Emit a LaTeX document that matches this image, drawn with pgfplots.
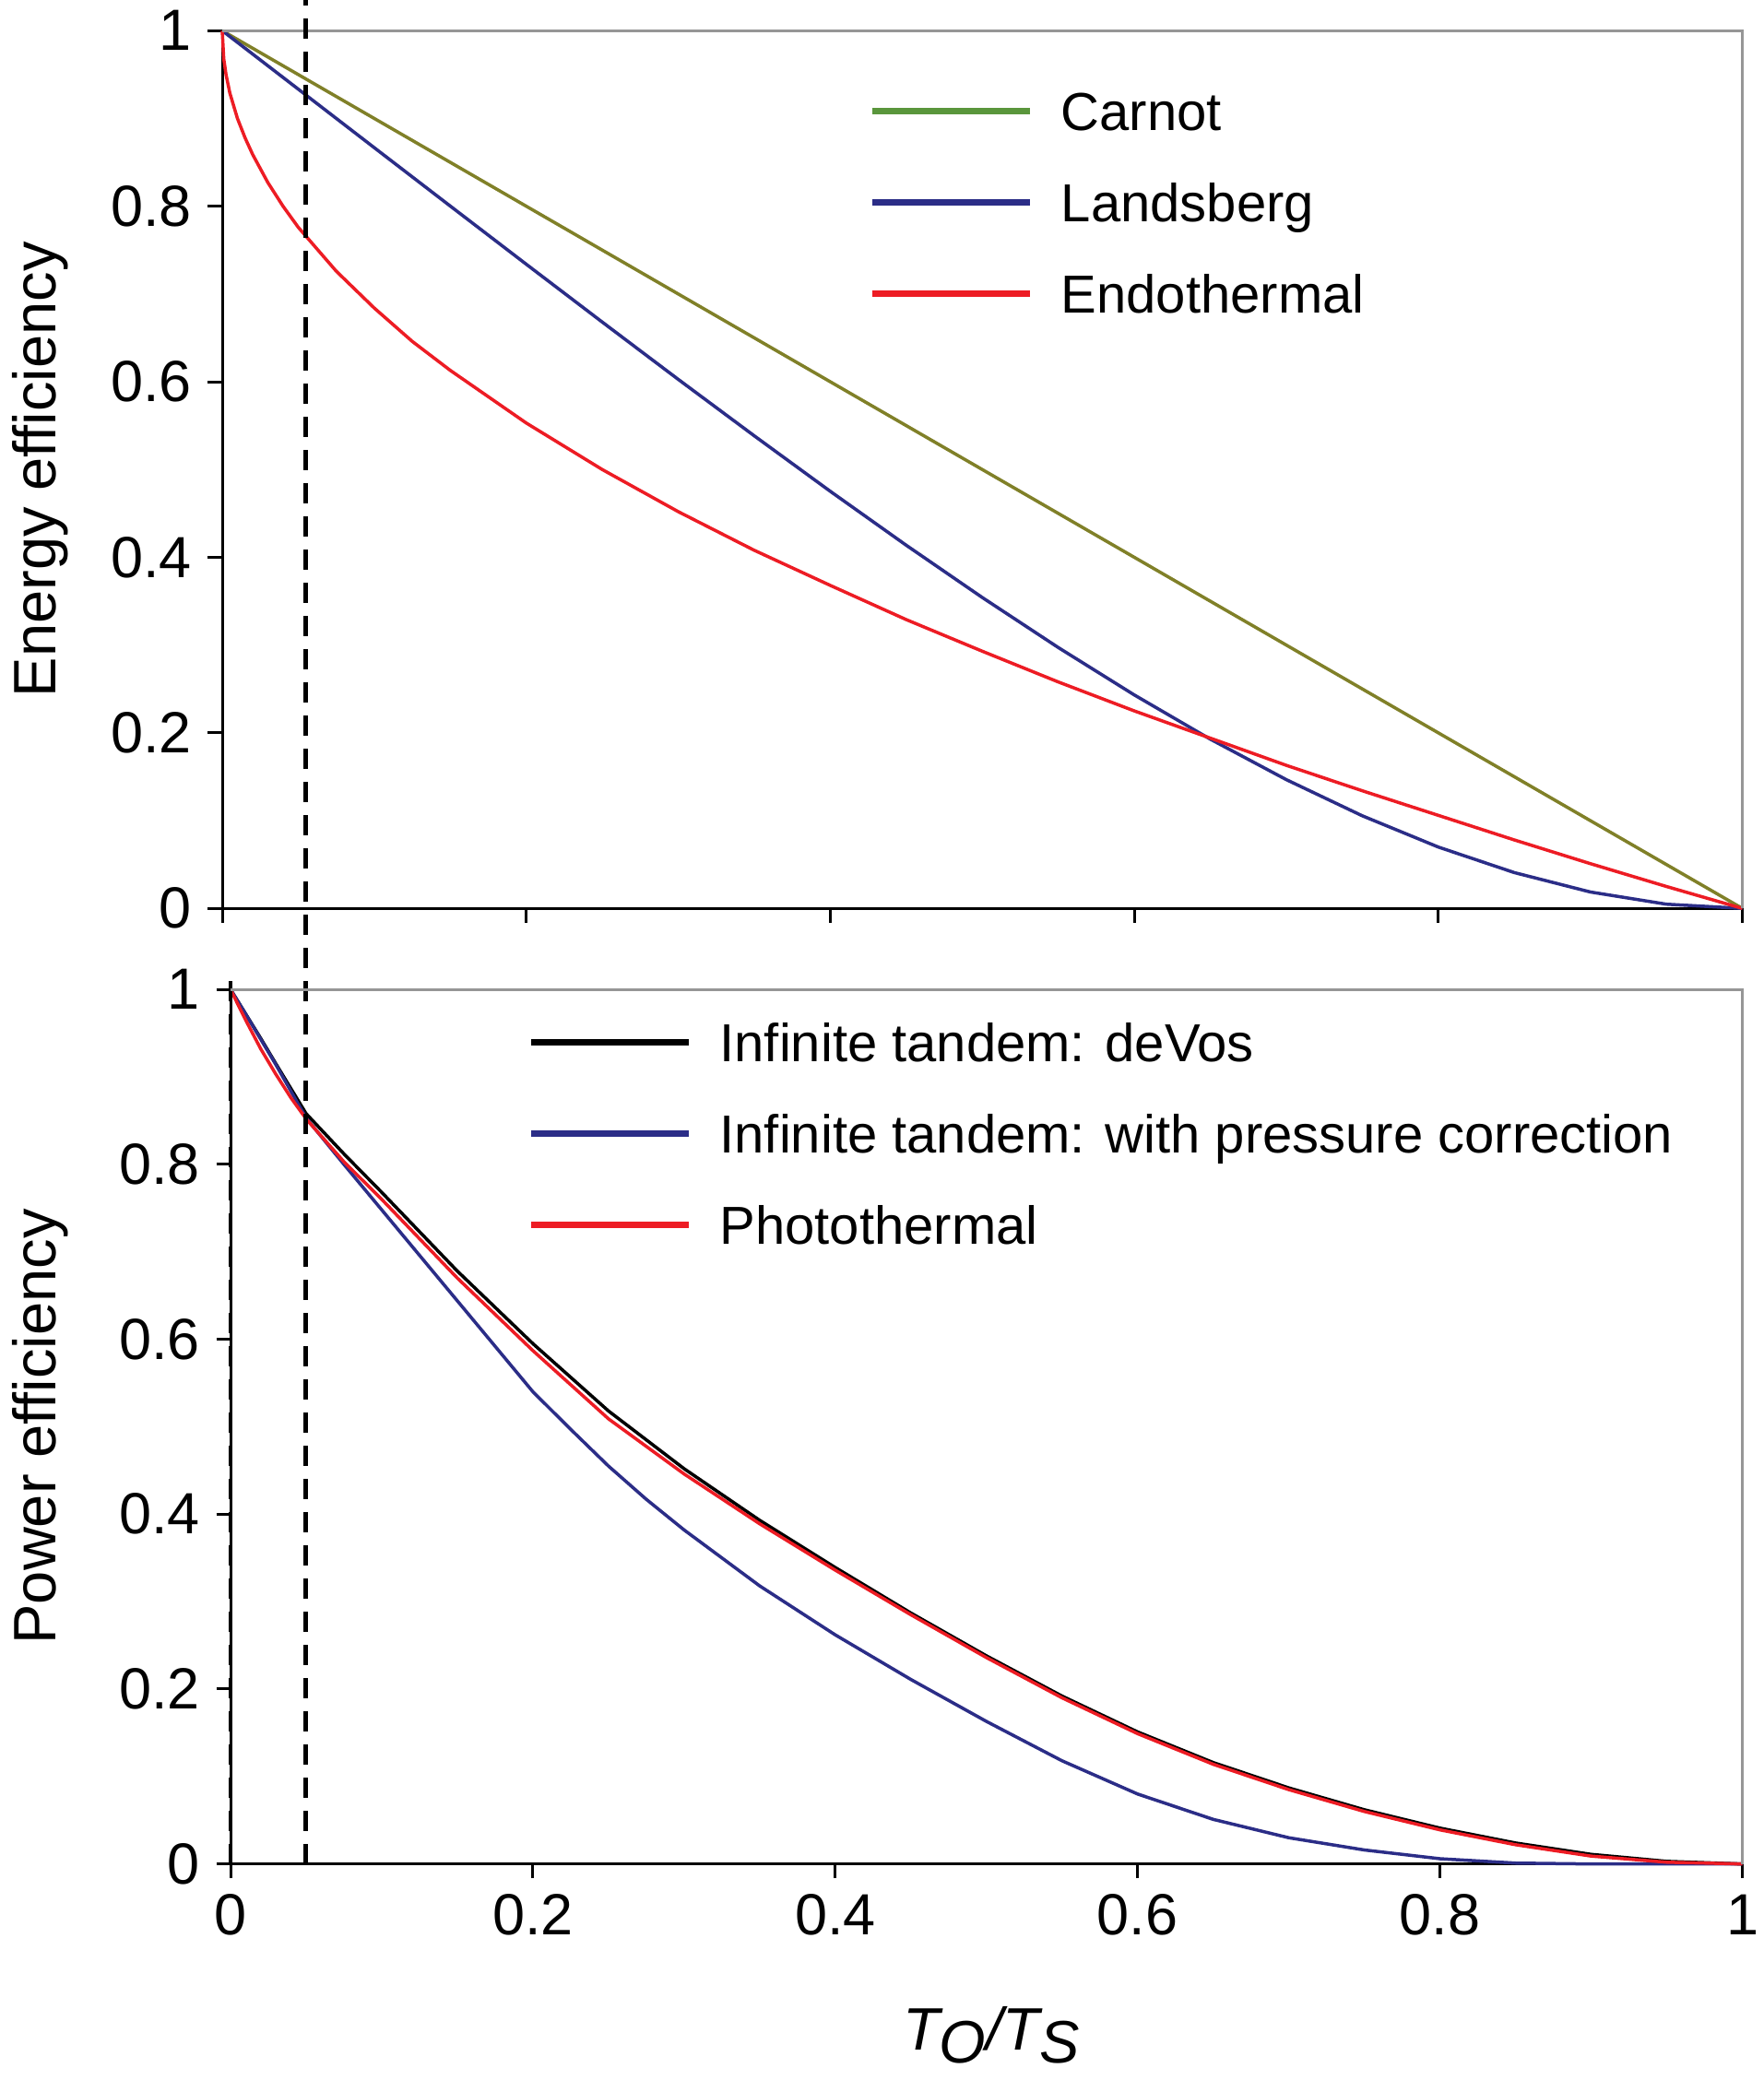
\documentclass[border=0pt]{standalone}
\usepackage{fontspec}
\setmainfont{Liberation Sans}
\usepackage{pgfplots}
\pgfplotsset{compat=1.18}
\definecolor{carnot}{RGB}{128,128,40}
\definecolor{carnotleg}{RGB}{90,150,60}
\definecolor{navy}{RGB}{43,45,135}
\definecolor{myred}{RGB}{237,28,36}
\definecolor{boxgray}{RGB}{150,150,150}
\pgfplotsset{
 panel/.style={
  scale only axis, xmin=0,xmax=1,ymin=0,ymax=1,
  axis x line*=bottom, axis y line*=left,
  axis line style={-,black,line width=0.6pt},
  tick align=outside, major tick length=3.1pt,
  tick style={black,line width=0.6pt},
  xtick={0,0.2,0.4,0.6,0.8,1},
  ytick={0,0.2,0.4,0.6,0.8,1},
  yticklabels={0,0.2,0.4,0.6,0.8,1},
  tick label style={font=\fontsize{12.6}{15}\selectfont},
  clip=false,
  legend cell align=left,
  legend style={draw=none,fill=none,anchor=west,
     nodes={inner sep=0pt,text height=9.9pt,text depth=1.5pt,font=\fontsize{11.6}{14}\selectfont},
     row sep=8.4pt, column sep=6pt},
  legend image code/.code={\draw[##1,line width=1.4pt] (0pt,0pt) -- (34.2pt,0pt);},
  every axis y label/.style={rotate=90,anchor=center,font=\fontsize{13}{15}\selectfont},
 }
}
\begin{document}
\begin{tikzpicture}
\path[use as bounding box] (0,0) rectangle (382.4pt,451.2pt);
% ---------------- top panel ----------------
\begin{axis}[panel, at={(48.2pt,254.14pt)}, anchor=south west,
  width=329.7pt, height=190.4pt, xticklabels={},
  ylabel={Energy efficiency},
  ylabel style={at={(axis description cs:-0.1198,0.5)}},
  legend style={at={(axis description cs:0.416,0.804)}}]
\addplot[carnot, line width=0.7pt,
  legend image code/.code={\draw[carnotleg,line width=1.4pt] (0pt,0pt) -- (34.2pt,0pt);}]
  coordinates {(0,1) (0.25,0.75) (0.5,0.5) (0.75,0.25) (1,0)};
\addlegendentry{Carnot}
\addplot[navy, line width=0.7pt] coordinates {
(0,1) (0.05,0.9334) (0.1,0.8667) (0.15,0.8002) (0.2,0.7339) (0.25,0.668)
(0.3,0.6027) (0.35,0.5384) (0.4,0.4752) (0.45,0.4137) (0.5,0.3542)
(0.55,0.2972) (0.6,0.2432) (0.65,0.1928) (0.7,0.1467) (0.75,0.1055)
(0.8,0.0699) (0.85,0.0408) (0.9,0.0187) (0.95,0.0048) (1,0)};
\addlegendentry{Landsberg}
\addplot[myred, line width=0.7pt] coordinates {
(0,1) (0.001,0.968) (0.0025,0.95) (0.005,0.929) (0.01,0.9) (0.015,0.878)
(0.02,0.859) (0.03,0.827) (0.04,0.8) (0.05,0.776) (0.075,0.726) (0.1,0.684)
(0.125,0.646) (0.15,0.613) (0.2,0.553) (0.25,0.5) (0.3,0.452) (0.35,0.408)
(0.4,0.368) (0.45,0.329) (0.5,0.293) (0.55,0.258) (0.6,0.225) (0.65,0.194)
(0.7,0.163) (0.75,0.134) (0.8,0.106) (0.85,0.078) (0.9,0.051) (0.95,0.025) (1,0)};
\addlegendentry{Endothermal}
\draw[boxgray,line width=0.6pt] (rel axis cs:0,1) -- (rel axis cs:1,1) -- (rel axis cs:1,0);
\end{axis}
% ---------------- bottom panel ----------------
\begin{axis}[panel, at={(50pt,46.86pt)}, anchor=south west,
  width=327.9pt, height=189.7pt,
  xticklabels={0,0.2,0.4,0.6,0.8,1},
  ylabel={Power efficiency},
  ylabel style={at={(axis description cs:-0.126,0.5)}},
  xlabel={\itshape T\raisebox{-0.4ex}{O}/T\raisebox{-0.4ex}{S}},
  xlabel style={at={(axis description cs:0.5,0)},anchor=center,yshift=-37.1pt,xshift=1pt,font=\fontsize{13}{15}\selectfont},
  legend style={at={(axis description cs:0.187,0.8355)}}]
\addplot[black, line width=0.7pt] coordinates {
(0,1) (0.01,0.972) (0.02,0.944) (0.03,0.915) (0.05,0.858) (0.075,0.812)
(0.1,0.768) (0.15,0.678) (0.2,0.595) (0.25,0.518) (0.3,0.452) (0.35,0.393)
(0.4,0.339) (0.45,0.287) (0.5,0.238) (0.55,0.192) (0.6,0.151) (0.65,0.116)
(0.7,0.087) (0.75,0.062) (0.8,0.041) (0.85,0.024) (0.9,0.011) (0.95,0.003) (1,0)};
\addlegendentry{Infinite tandem: deVos}
\addplot[navy, line width=0.7pt] coordinates {
(0,1) (0.01,0.972) (0.02,0.943) (0.03,0.914) (0.05,0.853) (0.075,0.800)
(0.1,0.748) (0.15,0.644) (0.2,0.540) (0.225,0.497) (0.25,0.455) (0.275,0.417)
(0.3,0.382) (0.35,0.318) (0.4,0.262) (0.45,0.211) (0.5,0.163) (0.55,0.118)
(0.6,0.080) (0.65,0.051) (0.7,0.030) (0.75,0.016) (0.8,0.006) (0.85,0.001)
(0.9,0) (1,0)};
\addlegendentry{Infinite tandem: with pressure correction}
\addplot[myred, line width=0.7pt] coordinates {
(0,1) (0.01,0.965) (0.02,0.932) (0.03,0.903) (0.04,0.876) (0.05,0.852)
(0.075,0.803) (0.1,0.760) (0.15,0.670) (0.2,0.587) (0.25,0.509) (0.3,0.446)
(0.35,0.389) (0.4,0.336) (0.45,0.285) (0.5,0.236) (0.55,0.190) (0.6,0.149)
(0.65,0.114) (0.7,0.085) (0.75,0.060) (0.8,0.039) (0.85,0.022) (0.9,0.009)
(0.95,0.002) (1,0)};
\addlegendentry{Photothermal}
\addplot[black, line width=0.7pt, dash pattern=on 4.3pt off 2.9pt, forget plot]
  coordinates {(0,0) (0,1.02)};
\addplot[black, line width=1pt, dash pattern=on 4.3pt off 2.9pt, forget plot]
  coordinates {(0.0498,0) (0.0498,2.14)};
\draw[boxgray,line width=0.6pt] (rel axis cs:0,1) -- (rel axis cs:1,1) -- (rel axis cs:1,0);
\end{axis}
\end{tikzpicture}
\end{document}
